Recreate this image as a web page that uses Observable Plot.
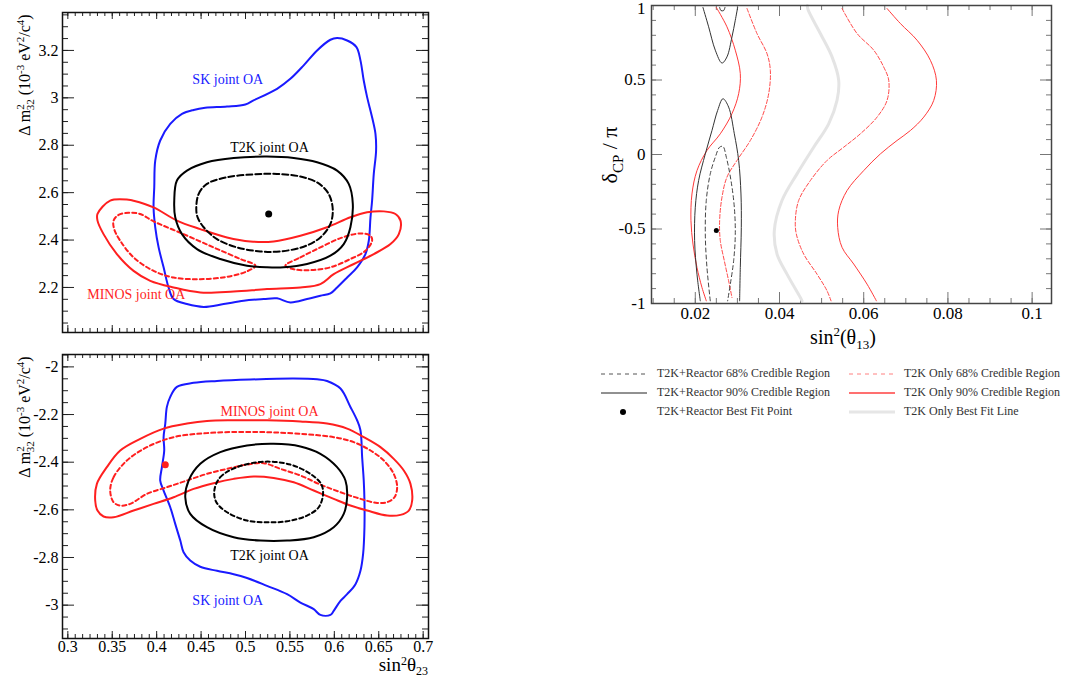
<!DOCTYPE html>
<html><head><meta charset="utf-8">
<script src="https://cdn.jsdelivr.net/npm/d3@7"></script>
<script src="https://cdn.jsdelivr.net/npm/@observablehq/plot@0.6"></script>
<style>
body{margin:0;background:#fff;}
#root{position:relative;width:1068px;height:679px;overflow:hidden;font-family:'Liberation Serif','Times New Roman',serif;background:#fff;}
.panel{position:absolute;}
.panel svg{overflow:visible;}
.lg{position:absolute;font-size:12px;color:#333;white-space:nowrap;line-height:13px;}
.sw{position:absolute;}
</style></head><body><div id="root"></div>
<script>
// ---------- Top-left panel (normal ordering): sin^2 theta23 vs dm2_32 ----------
const nhSK = [[0.509,2.989],[0.5355,3.038],[0.5505,3.080],[0.5655,3.137],[0.5806,3.2],[0.5956,3.245],[0.6031,3.252],[0.6144,3.242],[0.6249,3.214],[0.6294,3.158],[0.6331,3.073],[0.6369,3.003],[0.6425,2.918],[0.6463,2.848],[0.6470,2.777],[0.6444,2.679],[0.6425,2.566],[0.6407,2.496],[0.6388,2.397],[0.6350,2.341],[0.6256,2.285],[0.6144,2.242],[0.6031,2.200],[0.5956,2.175],[0.5843,2.165],[0.5693,2.151],[0.5505,2.137],[0.5355,2.154],[0.5205,2.151],[0.4979,2.144],[0.4754,2.130],[0.4529,2.118],[0.4341,2.130],[0.4191,2.151],[0.4134,2.2],[0.4078,2.285],[0.4022,2.369],[0.3984,2.454],[0.3965,2.538],[0.3973,2.623],[0.3984,2.735],[0.4040,2.820],[0.4153,2.890],[0.4285,2.932],[0.4416,2.949],[0.4547,2.958],[0.4792,2.963],[0.4998,2.972]];
const nhT2K90 = [[0.4198,2.566],[0.4228,2.651],[0.4341,2.693],[0.4566,2.728],[0.4867,2.746],[0.5242,2.752],[0.5543,2.746],[0.5806,2.728],[0.6031,2.693],[0.6162,2.637],[0.6208,2.552],[0.6181,2.454],[0.6106,2.383],[0.5956,2.334],[0.5693,2.299],[0.5430,2.285],[0.5242,2.285],[0.5017,2.292],[0.4716,2.320],[0.4454,2.362],[0.4285,2.425],[0.4209,2.496]];
const nhT2K68 = [[0.4446,2.531],[0.4472,2.594],[0.4566,2.637],[0.4792,2.665],[0.5092,2.677],[0.5355,2.679],[0.5618,2.668],[0.5824,2.639],[0.5937,2.594],[0.5982,2.531],[0.5956,2.468],[0.5843,2.411],[0.5655,2.372],[0.5392,2.352],[0.5167,2.352],[0.4904,2.369],[0.4679,2.404],[0.4529,2.454],[0.4461,2.496]];
const nhMINOS90 = [[0.3334,2.510],[0.3477,2.566],[0.3684,2.570],[0.3740,2.566],[0.3965,2.538],[0.4228,2.482],[0.4491,2.446],[0.4792,2.411],[0.5054,2.394],[0.5317,2.394],[0.5618,2.418],[0.5918,2.454],[0.6181,2.496],[0.6369,2.517],[0.6557,2.521],[0.6688,2.510],[0.6745,2.482],[0.6726,2.425],[0.6632,2.383],[0.6444,2.341],[0.6219,2.299],[0.5993,2.256],[0.5843,2.214],[0.5618,2.200],[0.5242,2.193],[0.4867,2.183],[0.4491,2.179],[0.4191,2.200],[0.3928,2.228],[0.3740,2.270],[0.3552,2.341],[0.3402,2.425],[0.3334,2.482]];
const nhMINOS68a = [[0.3515,2.482],[0.3571,2.506],[0.3684,2.515],[0.3815,2.510],[0.3965,2.479],[0.4303,2.425],[0.4641,2.369],[0.4942,2.320],[0.5111,2.292],[0.5017,2.268],[0.4792,2.245],[0.4491,2.235],[0.4191,2.242],[0.3965,2.270],[0.3740,2.327],[0.3590,2.397],[0.3522,2.446]];
const nhMINOS68b = [[0.5449,2.292],[0.5618,2.327],[0.5843,2.369],[0.6069,2.408],[0.6294,2.428],[0.6407,2.418],[0.6425,2.397],[0.6350,2.355],[0.6181,2.320],[0.5956,2.285],[0.5730,2.273],[0.5543,2.277]];
const nhBest = [[0.5261,2.510]];
const nhLabelText = ["SK joint OA","T2K joint OA","MINOS joint OA"];
const nhLabelX = [0.480,0.527,0.377];
const nhLabelY = [3.077,2.792,2.169];
const nhYTicks = [2.2,2.4,2.6,2.8,3,3.2];

// ---------- Bottom-left panel (inverted ordering) ----------
const ihSK = [[0.4153,-2.126],[0.4228,-2.084],[0.4416,-2.067],[0.4679,-2.059],[0.5054,-2.053],[0.5543,-2.049],[0.5806,-2.052],[0.5918,-2.059],[0.6069,-2.091],[0.6181,-2.168],[0.6256,-2.224],[0.6294,-2.266],[0.6313,-2.379],[0.6331,-2.477],[0.6339,-2.561],[0.6339,-2.673],[0.6324,-2.785],[0.6294,-2.856],[0.6238,-2.912],[0.6144,-2.954],[0.6069,-2.982],[0.5993,-3.024],[0.5956,-3.041],[0.5843,-3.041],[0.5768,-3.017],[0.5618,-2.989],[0.5468,-2.954],[0.5242,-2.919],[0.5017,-2.886],[0.4867,-2.870],[0.4679,-2.856],[0.4491,-2.839],[0.4378,-2.813],[0.4303,-2.778],[0.4266,-2.729],[0.4209,-2.659],[0.4153,-2.589],[0.4078,-2.519],[0.4040,-2.477],[0.4059,-2.421],[0.4085,-2.351],[0.4078,-2.295],[0.4097,-2.238],[0.4115,-2.168]];
const ihT2K90 = [[0.4322,-2.547],[0.4360,-2.477],[0.4491,-2.407],[0.4716,-2.358],[0.5017,-2.330],[0.5317,-2.323],[0.5618,-2.334],[0.5843,-2.365],[0.6031,-2.421],[0.6125,-2.477],[0.6144,-2.547],[0.6106,-2.617],[0.5993,-2.673],[0.5768,-2.715],[0.5468,-2.729],[0.5167,-2.729],[0.4867,-2.715],[0.4566,-2.673],[0.4378,-2.617]];
const ihT2K68 = [[0.4649,-2.519],[0.4716,-2.463],[0.4904,-2.421],[0.5205,-2.398],[0.5505,-2.410],[0.5730,-2.449],[0.5851,-2.491],[0.5873,-2.533],[0.5824,-2.589],[0.5693,-2.624],[0.5468,-2.648],[0.5242,-2.652],[0.5017,-2.645],[0.4792,-2.610],[0.4672,-2.568]];
const ihMINOS90 = [[0.3308,-2.561],[0.3327,-2.491],[0.3439,-2.421],[0.3590,-2.351],[0.3815,-2.302],[0.4078,-2.259],[0.4341,-2.238],[0.4566,-2.227],[0.4867,-2.224],[0.5242,-2.224],[0.5618,-2.229],[0.5918,-2.238],[0.6144,-2.259],[0.6331,-2.295],[0.6519,-2.337],[0.6669,-2.386],[0.6782,-2.435],[0.6857,-2.491],[0.6876,-2.561],[0.6838,-2.603],[0.6745,-2.621],[0.6594,-2.624],[0.6369,-2.603],[0.6181,-2.582],[0.5993,-2.554],[0.5768,-2.519],[0.5543,-2.484],[0.5317,-2.466],[0.5092,-2.460],[0.4867,-2.470],[0.4641,-2.488],[0.4416,-2.512],[0.4191,-2.547],[0.3965,-2.575],[0.3740,-2.603],[0.3515,-2.631],[0.3402,-2.628],[0.3334,-2.603]];
const ihMINOS68 = [[0.3477,-2.519],[0.3515,-2.463],[0.3665,-2.393],[0.3890,-2.337],[0.4191,-2.295],[0.4566,-2.278],[0.4942,-2.273],[0.5317,-2.275],[0.5693,-2.283],[0.5993,-2.295],[0.6219,-2.316],[0.6407,-2.351],[0.6557,-2.393],[0.6669,-2.449],[0.6707,-2.505],[0.6677,-2.547],[0.6594,-2.568],[0.6482,-2.571],[0.6294,-2.554],[0.6069,-2.526],[0.5843,-2.494],[0.5618,-2.456],[0.5392,-2.428],[0.5205,-2.404],[0.5017,-2.410],[0.4792,-2.428],[0.4566,-2.449],[0.4341,-2.477],[0.4115,-2.505],[0.3890,-2.533],[0.3702,-2.575],[0.3590,-2.582],[0.3515,-2.568]];
const ihBest = [[0.4097,-2.411]];
const ihLabelText = ["SK joint OA","T2K joint OA","MINOS joint OA"];
const ihLabelX = [0.480,0.527,0.527];
const ihLabelY = [-2.982,-2.792,-2.187];
const ihYTicks = [-3,-2.8,-2.6,-2.4,-2.2,-2];
const th23Ticks = [0.3,0.35,0.4,0.45,0.5,0.55,0.6,0.65,0.7];

// ---------- Right panel: sin^2 theta13 vs deltaCP/pi ----------
const bestFitLine = [[0.0466,1.0],[0.04677,0.973],[0.04970,0.812],[0.05248,0.655],[0.05406,0.498],[0.05366,0.363],[0.05168,0.206],[0.04812,0.049],[0.04416,-0.130],[0.04059,-0.309],[0.03877,-0.511],[0.03941,-0.668],[0.04178,-0.803],[0.04495,-0.960],[0.04535,-0.982]];
const t2k68Right = [[0.05485,0.980],[0.05842,0.812],[0.06238,0.700],[0.06475,0.587],[0.06594,0.498],[0.06554,0.363],[0.06317,0.251],[0.05921,0.139],[0.05525,0.049],[0.05129,-0.040],[0.04733,-0.175],[0.04455,-0.309],[0.04376,-0.444],[0.04400,-0.534],[0.04574,-0.668],[0.04891,-0.803],[0.05129,-0.915],[0.05224,-0.982]];
const t2k90Right = [[0.06554,0.980],[0.06871,0.879],[0.07267,0.767],[0.07584,0.632],[0.07727,0.498],[0.07663,0.363],[0.07426,0.251],[0.07109,0.161],[0.06792,0.094],[0.06396,0.004],[0.06000,-0.108],[0.05604,-0.242],[0.05406,-0.377],[0.05382,-0.489],[0.05485,-0.623],[0.05762,-0.735],[0.06079,-0.870],[0.06301,-0.982]];
const t2k68Left = [[0.03228,0.980],[0.03465,0.812],[0.03703,0.677],[0.03782,0.565],[0.03743,0.408],[0.03584,0.251],[0.03307,0.094],[0.02990,-0.040],[0.02752,-0.152],[0.02634,-0.287],[0.02578,-0.444],[0.02594,-0.578],[0.02689,-0.713],[0.02792,-0.848],[0.02871,-0.960]];
const t2k90Left = [[0.02499,0.987],[0.02752,0.857],[0.02950,0.700],[0.03069,0.543],[0.03030,0.408],[0.02871,0.274],[0.02594,0.139],[0.02277,0.027],[0.02040,-0.108],[0.01921,-0.265],[0.01897,-0.444],[0.01945,-0.601],[0.02040,-0.758],[0.02158,-0.892],[0.02261,-0.982]];
const rx90Top = [[0.02182,0.987],[0.02317,0.857],[0.02475,0.700],[0.02634,0.614],[0.02752,0.655],[0.02871,0.789],[0.02950,0.901],[0.03006,0.987]];
const rx90Hook = [[0.02578,0.987],[0.02610,0.966],[0.02673,0.966],[0.02705,0.987]];
const rx90Bottom = [[0.02119,-0.982],[0.02040,-0.803],[0.01984,-0.578],[0.02000,-0.354],[0.02079,-0.175],[0.02238,0.004],[0.02396,0.161],[0.02531,0.296],[0.02657,0.374],[0.02792,0.318],[0.02927,0.139],[0.03030,-0.040],[0.03085,-0.265],[0.03093,-0.489],[0.03069,-0.758],[0.03053,-0.982]];
const rx68 = [[0.02356,-0.982],[0.02277,-0.758],[0.02238,-0.534],[0.02261,-0.309],[0.02356,-0.130],[0.02475,-0.018],[0.02578,0.049],[0.02657,0.054],[0.02737,-0.018],[0.02848,-0.175],[0.02927,-0.354],[0.02950,-0.534],[0.02911,-0.713],[0.02832,-0.870],[0.02768,-0.982]];
const rxBest = [[0.025,-0.51]];
const th13Ticks = [0.02,0.04,0.06,0.08,0.1];
const dcpTicks = [-1,-0.5,0,0.5,1];
const legendLabels = ["T2K+Reactor 68% Credible Region","T2K+Reactor 90% Credible Region","T2K+Reactor Best Fit Point","T2K Only 68% Credible Region","T2K Only 90% Credible Region","T2K Only Best Fit Line"];

// ---------- helpers ----------
const FONT = "'Liberation Serif','Times New Roman',serif";
const BLUE = "#1a1aff", RED = "#ff1f1f";
const X = d => d[0], Y = d => d[1];
function rangeStep(a, b, s) { const n = Math.round((b - a) / s); return d3.range(n + 1).map(i => a + i * s); }

function frameTicks(o) {
  const {xMajor, xMinor, yMajor, yMinor, W, H, xMaj, xMin, yMaj, yMin, color} = o;
  const sw = o.sw || 1;
  return [
    Plot.tickY(yMajor, {y: d => d, insetRight: W - yMaj, stroke: color, strokeWidth: sw}),
    Plot.tickY(yMajor, {y: d => d, insetLeft: W - yMaj, stroke: color, strokeWidth: sw}),
    Plot.tickY(yMinor, {y: d => d, insetRight: W - yMin, stroke: color, strokeWidth: sw}),
    Plot.tickY(yMinor, {y: d => d, insetLeft: W - yMin, stroke: color, strokeWidth: sw}),
    Plot.tickX(xMajor, {x: d => d, insetTop: H - xMaj, stroke: color, strokeWidth: sw}),
    Plot.tickX(xMajor, {x: d => d, insetBottom: H - xMaj, stroke: color, strokeWidth: sw}),
    Plot.tickX(xMinor, {x: d => d, insetTop: H - xMin, stroke: color, strokeWidth: sw}),
    Plot.tickX(xMinor, {x: d => d, insetBottom: H - xMin, stroke: color, strokeWidth: sw})
  ];
}
function lbls(texts, xs, ys, colors, size) {
  return texts.map((t, i) => Plot.text([t], {x: () => xs[i], y: () => ys[i], text: d => d, fill: colors[i], fontSize: size, fontFamily: FONT}));
}
function closed(data, color, dash, w) {
  return Plot.line(data, {x: X, y: Y, curve: "catmull-rom-closed", stroke: color, strokeWidth: w, strokeDasharray: dash});
}
function open(data, color, dash, w) {
  return Plot.line(data, {x: X, y: Y, curve: "catmull-rom", stroke: color, strokeWidth: w, strokeDasharray: dash});
}
function place(el, left, top) {
  const d = document.createElement("div");
  d.className = "panel"; d.style.left = left + "px"; d.style.top = top + "px";
  d.appendChild(el); document.getElementById("root").appendChild(d);
  return el;
}
function dmTitle(svg, x, cy) {
  const t = d3.select(svg).append("text").attr("transform", `translate(${x},${cy}) rotate(-90)`)
    .attr("text-anchor", "middle").attr("fill", "black").style("font-size", "16px").style("font-family", FONT);
  t.append("tspan").text("Δ m");
  t.append("tspan").attr("dy", -6).style("font-size", "11px").text("2");
  t.append("tspan").attr("dx", -6).attr("dy", 10).style("font-size", "11px").text("32");
  t.append("tspan").attr("dy", -4).text(" (10");
  t.append("tspan").attr("dy", -6).style("font-size", "11px").text("-3");
  t.append("tspan").attr("dy", 6).text(" eV");
  t.append("tspan").attr("dy", -6).style("font-size", "11px").text("2");
  t.append("tspan").attr("dy", 6).text("/c");
  t.append("tspan").attr("dy", -6).style("font-size", "11px").text("4");
  t.append("tspan").attr("dy", 6).text(")");
}

const th23Minor = rangeStep(0.3, 0.7, 0.05 / 6);
const xDom23 = [0.294, 0.706];

// ---------- Panel A ----------
{
  const width = 440, height = 340, mL = 62, mR = 12, mT = 12, mB = 8;
  const W = width - mL - mR, H = height - mT - mB;
  const p = Plot.plot({
    width, height, marginLeft: mL, marginRight: mR, marginTop: mT, marginBottom: mB,
    style: {fontFamily: FONT, background: "transparent", overflow: "visible"},
    x: {domain: xDom23, axis: null},
    y: {domain: [2.01, 3.36]},
    marks: [
      ...frameTicks({xMajor: th23Ticks, xMinor: th23Minor, yMajor: nhYTicks, yMinor: rangeStep(2.05, 3.35, 0.05), W, H, xMaj: 7, xMin: 4, yMaj: 12, yMin: 6, color: "#222"}),
      Plot.axisY(nhYTicks, {anchor: "left", tickSize: 0, tickPadding: 4, fontSize: 16, tickFormat: d => String(d), label: null}),
      closed(nhSK, BLUE, null, 2),
      closed(nhMINOS90, RED, null, 2),
      closed(nhMINOS68a, RED, "4,3", 2),
      closed(nhMINOS68b, RED, "4,3", 2),
      closed(nhT2K90, "black", null, 2),
      closed(nhT2K68, "black", "6,3", 2),
      Plot.dot(nhBest, {x: X, y: Y, r: 3.5, fill: "black"}),
      ...lbls(nhLabelText, nhLabelX, nhLabelY, [BLUE, "black", RED], 14),
      Plot.frame({stroke: "#111", strokeWidth: 1.5})
    ]
  });
  place(p, 0, 0);
  dmTitle(p, 30, 75);
}

// ---------- Panel B ----------
{
  const width = 440, height = 339, mL = 62, mR = 12, mT = 14, mB = 41;
  const W = width - mL - mR, H = height - mT - mB;
  const p = Plot.plot({
    width, height, marginLeft: mL, marginRight: mR, marginTop: mT, marginBottom: mB,
    style: {fontFamily: FONT, background: "transparent", overflow: "visible"},
    x: {domain: xDom23},
    y: {domain: [-3.14, -1.948]},
    marks: [
      ...frameTicks({xMajor: th23Ticks, xMinor: th23Minor, yMajor: ihYTicks, yMinor: rangeStep(-3.1, -1.95, 0.05), W, H, xMaj: 7, xMin: 4, yMaj: 12, yMin: 6, color: "#222"}),
      Plot.axisY(ihYTicks, {anchor: "left", tickSize: 0, tickPadding: 4, fontSize: 16, tickFormat: d => String(d), label: null}),
      Plot.axisX(th23Ticks, {anchor: "bottom", tickSize: 0, tickPadding: 2, fontSize: 16, tickFormat: d => String(d), label: null}),
      closed(ihSK, BLUE, null, 2),
      closed(ihMINOS90, RED, null, 2),
      closed(ihMINOS68, RED, "4,3", 2),
      closed(ihT2K90, "black", null, 2),
      closed(ihT2K68, "black", "4,3", 2),
      Plot.dot(ihBest, {x: X, y: Y, r: 3.5, fill: RED}),
      ...lbls(ihLabelText, ihLabelX, ihLabelY, [BLUE, "black", RED], 14),
      Plot.frame({stroke: "#111", strokeWidth: 1.5})
    ]
  });
  place(p, 0, 340);
  dmTitle(p, 30, 77);
  const t = d3.select(p).append("text").attr("x", 428).attr("y", 331).attr("text-anchor", "end")
    .attr("fill", "black").style("font-size", "19px").style("font-family", FONT);
  t.append("tspan").text("sin");
  t.append("tspan").attr("dy", -6).style("font-size", "12px").text("2");
  t.append("tspan").attr("dy", 6).text("θ");
  t.append("tspan").attr("dy", 4).style("font-size", "12px").text("23");
}

// ---------- Panel C ----------
{
  const width = 488, height = 340, mL = 71, mR = 17, mT = 5, mB = 37;
  const W = width - mL - mR, H = height - mT - mB;
  const p = Plot.plot({
    width, height, marginLeft: mL, marginRight: mR, marginTop: mT, marginBottom: mB,
    style: {fontFamily: FONT, background: "transparent", overflow: "visible"},
    x: {domain: [0.0096, 0.1046]},
    y: {domain: [-1, 1]},
    marks: [
      ...frameTicks({xMajor: th13Ticks, xMinor: rangeStep(0.01, 0.1, 0.005), yMajor: dcpTicks, yMinor: rangeStep(-0.9, 0.9, 0.1), W, H, xMaj: 11, xMin: 5, yMaj: 11, yMin: 5, color: "#777"}),
      Plot.axisY(dcpTicks.filter(d => d < 1), {anchor: "left", tickSize: 0, tickPadding: 6, fontSize: 17, tickFormat: d => String(d), label: null}),
      Plot.axisY(dcpTicks.filter(d => d === 1), {anchor: "left", tickSize: 0, tickPadding: 6, fontSize: 17, dy: 3, tickFormat: d => String(d), label: null}),
      Plot.axisX(th13Ticks, {anchor: "bottom", tickSize: 0, tickPadding: 3, fontSize: 17, tickFormat: d => String(d), label: null}),
      open(bestFitLine, "#e4e4e4", null, 3),
      open(t2k68Right, "#ff4a4a", "4,2", 1),
      open(t2k90Right, "#ff3a3a", null, 1),
      open(t2k68Left, "#ff4a4a", "4,2", 1),
      open(t2k90Left, "#ff3a3a", null, 1),
      open(rx90Top, "#333", null, 1),
      open(rx90Hook, "#333", null, 1),
      open(rx90Bottom, "#333", null, 1),
      open(rx68, "#444", "4,3", 1),
      Plot.dot(rxBest, {x: X, y: Y, r: 2.5, fill: "black"}),
      Plot.frame({stroke: "#444", strokeWidth: 1.5})
    ]
  });
  place(p, 580, 0);
  const yt = d3.select(p).append("text").attr("transform", `translate(37,155) rotate(-90)`)
    .attr("text-anchor", "middle").attr("fill", "black").style("font-size", "22px").style("font-family", FONT);
  yt.append("tspan").text("δ");
  yt.append("tspan").attr("dy", 6).style("font-size", "15px").text("CP");
  yt.append("tspan").attr("dy", -6).text(" / π");
  const xt = d3.select(p).append("text").attr("x", 263).attr("y", 344).attr("text-anchor", "middle")
    .attr("fill", "black").style("font-size", "20px").style("font-family", FONT);
  xt.append("tspan").text("sin");
  xt.append("tspan").attr("dy", -8).style("font-size", "13px").text("2");
  xt.append("tspan").attr("dy", 8).text("(θ");
  xt.append("tspan").attr("dy", 5).style("font-size", "13px").text("13");
  xt.append("tspan").attr("dy", -5).text(")");
}

// ---------- Legend ----------
{
  const root = document.getElementById("root");
  const cols = [601, 849], textX = [657, 904], rows = [374, 393, 412];
  const styles = [
    {kind: "line", stroke: "#555", dash: "4,4", w: 1},
    {kind: "line", stroke: "#222", dash: null, w: 1},
    {kind: "dot", fill: "black"},
    {kind: "line", stroke: "#ff8080", dash: "4,4", w: 1},
    {kind: "line", stroke: "#ff7070", dash: null, w: 2},
    {kind: "line", stroke: "#e6e6e6", dash: null, w: 3}
  ];
  legendLabels.forEach((lab, i) => {
    const c = Math.floor(i / 3), r = i % 3, s = styles[i];
    const svg = d3.create("svg").attr("width", 46).attr("height", 10).attr("class", "sw")
      .style("left", cols[c] + "px").style("top", (rows[r] - 5) + "px");
    if (s.kind === "line") svg.append("line").attr("x1", 0).attr("x2", 46).attr("y1", 5).attr("y2", 5)
      .attr("stroke", s.stroke).attr("stroke-width", s.w).attr("stroke-dasharray", s.dash);
    else svg.append("circle").attr("cx", 22).attr("cy", 5).attr("r", 3).attr("fill", s.fill);
    root.appendChild(svg.node());
    const d = document.createElement("div");
    d.className = "lg"; d.textContent = lab;
    d.style.left = textX[c] + "px"; d.style.top = (rows[r] - 7) + "px";
    root.appendChild(d);
  });
}
</script></body></html>
